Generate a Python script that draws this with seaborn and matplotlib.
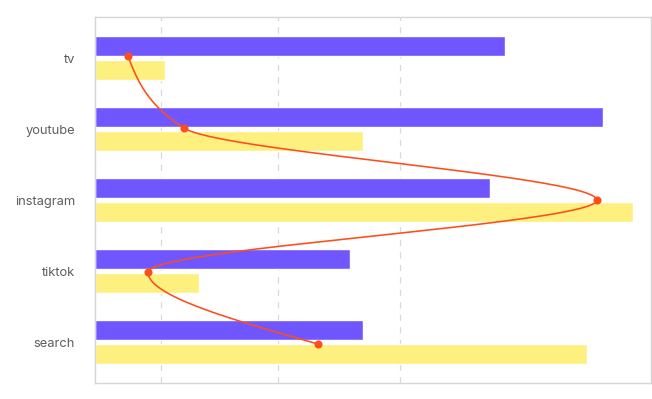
import numpy as np
import pandas as pd
import matplotlib
matplotlib.use("Agg")
import matplotlib.pyplot as plt
import seaborn as sns

channels = ["tv", "youtube", "instagram", "tiktok", "search"]
spend = [73.8, 91.4, 71.1, 45.9, 48.2]
conversions = [12.7, 48.2, 96.9, 18.8, 88.5]
roi = [6.0, 16.1, 90.3, 9.6, 40.2]
grid_x = [11.9, 33.0, 54.9]

sns.set_theme(style="white")
plt.rcParams["font.family"] = ["Inter", "DejaVu Sans"]

df = pd.DataFrame({"channel": channels, "spend": spend, "conversions": conversions})
long = df.melt(id_vars="channel", var_name="series", value_name="value")

fig, ax = plt.subplots(figsize=(6.52, 3.99), dpi=100)
fig.subplots_adjust(left=0.145, right=0.998, top=0.957, bottom=0.04)

sns.barplot(data=long, y="channel", x="value", hue="series", orient="h",
            palette=["#7056FF", "#FEF07F"], width=0.68, gap=0.17,
            saturation=1, legend=False, ax=ax, zorder=2)

ax.set_xlim(0, 100)
ax.set_ylim(4.577, -0.577)

# line sits on its own (hidden) category axis
lax = ax.twinx()
lax.set_ylim(4.542, -0.542)
lax.set_xlim(0, 100)
lax.axis("off")

# monotone-in-y cubic curve (like d3.curveMonotoneY), computed in pixels
ys = np.arange(len(channels), dtype=float)
pts = lax.transData.transform(np.column_stack([roi, ys]))
px, py = pts[:, 0], pts[:, 1]
n = len(pts)
h = np.diff(py)
s = np.diff(px) / h
tang = np.zeros(n)
for i in range(1, n - 1):
    p = (s[i - 1] * h[i] + s[i] * h[i - 1]) / (h[i - 1] + h[i])
    tang[i] = (np.sign(s[i - 1]) + np.sign(s[i])) * min(abs(s[i - 1]), abs(s[i]), 0.5 * abs(p))
tang[0] = (3 * s[0] - tang[1]) / 2
tang[-1] = (3 * s[-1] - tang[-2]) / 2
t = np.linspace(0, 1, 80)[:, None]
curve = []
for i in range(n - 1):
    d = h[i] / 3
    a = pts[i]
    b = np.array([px[i] + d * tang[i], py[i] + d])
    c = np.array([px[i + 1] - d * tang[i + 1], py[i + 1] - d])
    e = pts[i + 1]
    curve.append((1 - t)**3 * a + 3 * (1 - t)**2 * t * b + 3 * (1 - t) * t**2 * c + t**3 * e)
curve = lax.transData.inverted().transform(np.vstack(curve))
lax.plot(curve[:, 0], curve[:, 1], color="#FF4D1A", lw=1.15, zorder=4)
lax.scatter(roi, ys, color="#FF4D1A", s=34, zorder=5, linewidths=0)

for gx in grid_x:
    ax.axvline(gx, color="#d9d9d9", lw=0.9, ls=(0, (5, 5)), zorder=1)

ax.set_xlabel("")
ax.set_ylabel("")
ax.set_xticks([])
ax.tick_params(axis="y", length=0, pad=14, labelsize=9.3, labelcolor="#5f5f5f")
for sp in ax.spines.values():
    sp.set_color("#d6d6d6")
    sp.set_linewidth(1)

fig.savefig("out.png", dpi=100)
